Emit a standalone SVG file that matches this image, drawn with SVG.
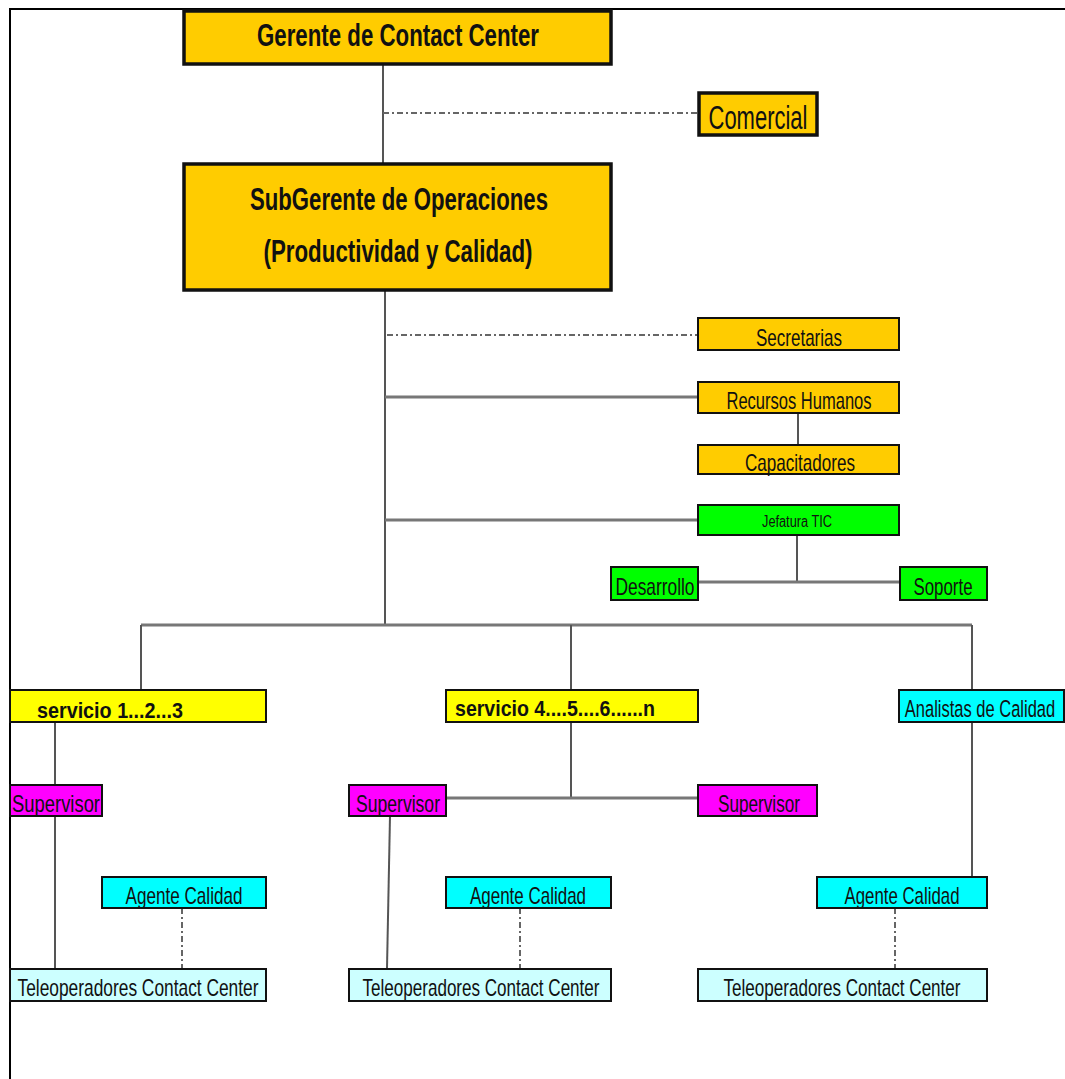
<svg xmlns="http://www.w3.org/2000/svg" width="1065" height="1079" viewBox="0 0 1065 1079">
<style>
text{font-family:"Liberation Sans Narrow","Liberation Sans",Arial,sans-serif;fill:#111;text-anchor:middle}
.b{stroke:#111;stroke-width:2}
.big{stroke:#111;stroke-width:3.5}
.or{fill:#FFCC00}
.ye{fill:#FFFF00}
.gr{fill:#00FF00}
.cy{fill:#00FFFF}
.lc{fill:#CCFFFF}
.mg{fill:#FF00FF}
.ln{stroke:#555;stroke-width:2;fill:none}
.lt{stroke:#777;stroke-width:3;fill:none}
.dd{stroke:#666;stroke-width:2;fill:none;stroke-dasharray:6 3 2 3}
.bold{font-weight:bold}
</style>
<rect width="1065" height="1079" fill="#fff"/>
<g id="frame"><path d="M10 1079 V9 H1065" stroke="#000" stroke-width="2" fill="none"/></g>
<g id="connectors">
<line class="ln" x1="383" y1="64" x2="383" y2="163"/>
<line class="dd" x1="383" y1="113" x2="697" y2="113"/>
<line class="ln" x1="385" y1="290" x2="385" y2="625"/>
<line class="dd" x1="387" y1="335" x2="697" y2="335"/>
<line class="lt" x1="385" y1="397" x2="698" y2="397"/>
<line class="ln" x1="798" y1="413" x2="798" y2="445"/>
<line class="lt" x1="385" y1="520" x2="698" y2="520"/>
<line class="ln" x1="797" y1="535" x2="797" y2="582"/>
<line class="lt" x1="698" y1="582" x2="900" y2="582"/>
<line class="lt" x1="141" y1="625" x2="972" y2="625"/>
<line class="ln" x1="141" y1="625" x2="141" y2="690"/>
<line class="ln" x1="571" y1="625" x2="571" y2="690"/>
<line class="ln" x1="972" y1="625" x2="972" y2="690"/>
<line class="ln" x1="55" y1="722" x2="55" y2="785"/>
<line class="ln" x1="55" y1="816" x2="55" y2="968"/>
<line class="ln" x1="571" y1="722" x2="571" y2="798"/>
<line class="lt" x1="446" y1="798" x2="698" y2="798"/>
<line class="ln" x1="390" y1="816" x2="387" y2="968"/>
<line class="ln" x1="972" y1="722" x2="972" y2="877"/>
<line class="dd" x1="182" y1="908" x2="182" y2="968"/>
<line class="dd" x1="520" y1="908" x2="520" y2="968"/>
<line class="dd" x1="895" y1="908" x2="895" y2="968"/>
</g>
<g id="gerente"><rect class="or big" x="184" y="11" width="427" height="53"/><text class="bold" x="398" y="46" font-size="31" textLength="282" lengthAdjust="spacingAndGlyphs">Gerente de Contact Center</text></g>
<g id="comercial"><rect class="or big" x="699" y="93" width="118" height="42"/><text x="758" y="129" font-size="33" textLength="99" lengthAdjust="spacingAndGlyphs">Comercial</text></g>
<g id="subgerente"><rect class="or big" x="184" y="164" width="427" height="126"/><text class="bold" x="399" y="210" font-size="31" textLength="298" lengthAdjust="spacingAndGlyphs">SubGerente de Operaciones</text><text class="bold" x="398" y="262" font-size="31" textLength="269" lengthAdjust="spacingAndGlyphs">(Productividad y Calidad)</text></g>
<g id="secretarias"><rect class="or b" x="698" y="318" width="201" height="32"/><text x="799" y="346" font-size="24" textLength="86" lengthAdjust="spacingAndGlyphs">Secretarias</text></g>
<g id="rrhh"><rect class="or b" x="698" y="382" width="201" height="31"/><text x="799" y="409" font-size="24" textLength="145" lengthAdjust="spacingAndGlyphs">Recursos Humanos</text></g>
<g id="capacitadores"><rect class="or b" x="698" y="445" width="201" height="29"/><text x="800" y="471" font-size="24" textLength="110" lengthAdjust="spacingAndGlyphs">Capacitadores</text></g>
<g id="jefatura"><rect class="gr b" x="698" y="505" width="201" height="30"/><text x="797" y="527" font-size="16" textLength="70" lengthAdjust="spacingAndGlyphs">Jefatura TIC</text></g>
<g id="desarrollo"><rect class="gr b" x="611" y="567" width="87" height="33"/><text x="655" y="595" font-size="24" textLength="79" lengthAdjust="spacingAndGlyphs">Desarrollo</text></g>
<g id="soporte"><rect class="gr b" x="900" y="567" width="87" height="33"/><text x="943" y="595" font-size="24" textLength="59" lengthAdjust="spacingAndGlyphs">Soporte</text></g>
<g id="servicio1"><rect class="ye b" x="10" y="690" width="256" height="32"/><text class="bold" x="110" y="718" font-size="22" textLength="146" lengthAdjust="spacingAndGlyphs">servicio 1...2...3</text></g>
<g id="servicio4"><rect class="ye b" x="446" y="690" width="252" height="32"/><text class="bold" x="555" y="716" font-size="22" textLength="200" lengthAdjust="spacingAndGlyphs">servicio 4....5....6......n</text></g>
<g id="analistas"><rect class="cy b" x="899" y="690" width="165" height="32"/><text transform="translate(980 717) scale(1 1.4)" x="0" y="0" font-size="16.5">Analistas de Calidad</text></g>
<g id="supervisor1"><rect class="mg b" x="10" y="785" width="92" height="31"/><text x="56" y="812" font-size="24" textLength="88" lengthAdjust="spacingAndGlyphs">Supervisor</text></g>
<g id="supervisor2"><rect class="mg b" x="349" y="785" width="97" height="31"/><text x="398" y="812" font-size="24" textLength="84" lengthAdjust="spacingAndGlyphs">Supervisor</text></g>
<g id="supervisor3"><rect class="mg b" x="698" y="785" width="119" height="31"/><text x="759" y="812" font-size="24" textLength="82" lengthAdjust="spacingAndGlyphs">Supervisor</text></g>
<g id="agente1"><rect class="cy b" x="102" y="877" width="164" height="31"/><text x="184" y="904" font-size="24" textLength="117" lengthAdjust="spacingAndGlyphs">Agente Calidad</text></g>
<g id="agente2"><rect class="cy b" x="446" y="877" width="165" height="31"/><text x="528" y="904" font-size="24" textLength="116" lengthAdjust="spacingAndGlyphs">Agente Calidad</text></g>
<g id="agente3"><rect class="cy b" x="817" y="877" width="170" height="31"/><text x="902" y="904" font-size="24" textLength="115" lengthAdjust="spacingAndGlyphs">Agente Calidad</text></g>
<g id="teleop1"><rect class="lc b" x="10" y="969" width="256" height="32"/><text x="138" y="996" font-size="24" textLength="241" lengthAdjust="spacingAndGlyphs">Teleoperadores Contact Center</text></g>
<g id="teleop2"><rect class="lc b" x="349" y="969" width="262" height="32"/><text x="481" y="996" font-size="24" textLength="237" lengthAdjust="spacingAndGlyphs">Teleoperadores Contact Center</text></g>
<g id="teleop3"><rect class="lc b" x="698" y="969" width="289" height="32"/><text x="842" y="996" font-size="24" textLength="237" lengthAdjust="spacingAndGlyphs">Teleoperadores Contact Center</text></g>
</svg>
